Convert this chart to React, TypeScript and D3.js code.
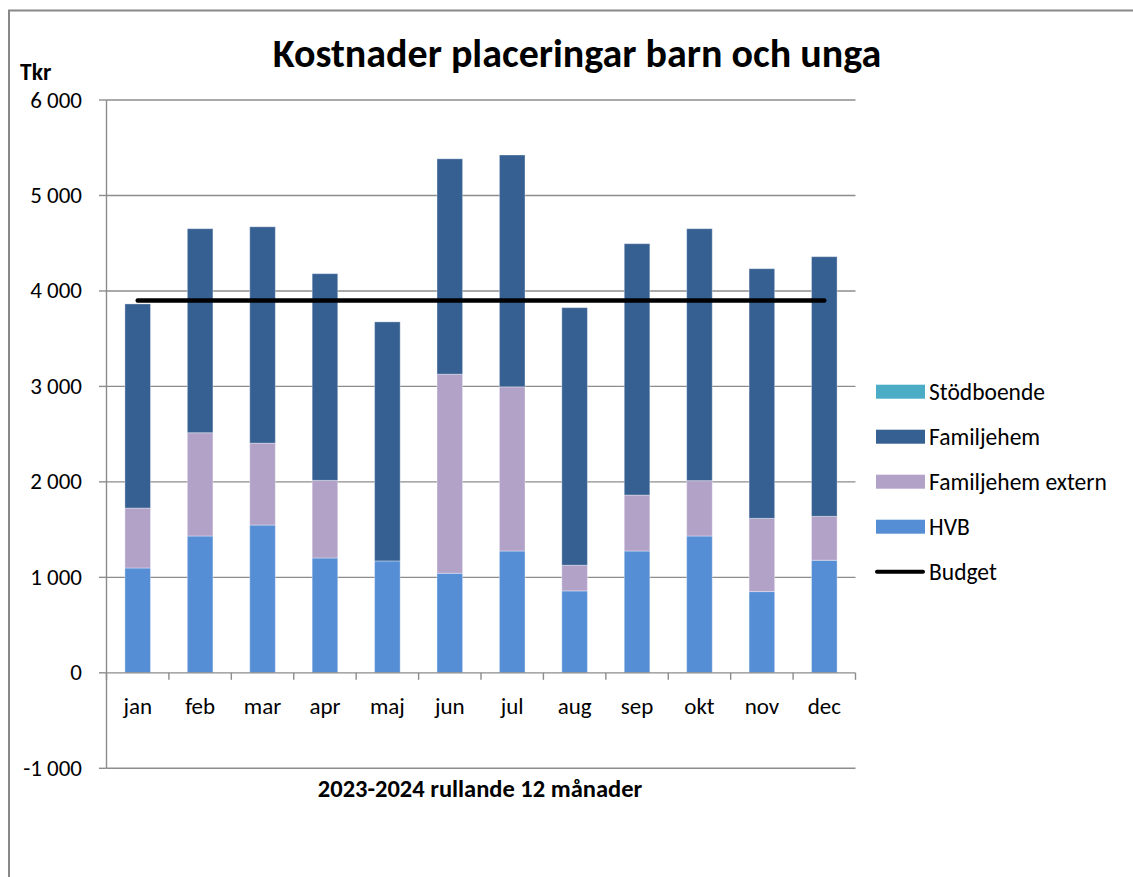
import React from 'react';
import * as d3 from 'd3';

const months = ['jan', 'feb', 'mar', 'apr', 'maj', 'jun', 'jul', 'aug', 'sep', 'okt', 'nov', 'dec'];
const hvb = [1098, 1433, 1548, 1203, 1172, 1043, 1276, 858, 1276, 1433, 851, 1179];
const famExtern = [628, 1082, 858, 813, 0, 2085, 1720, 269, 586, 580, 767, 460];
const familjehem = [2138, 2137, 2266, 2165, 2504, 2256, 2428, 2698, 2633, 2639, 2615, 2720];
const stodboende = [0, 0, 0, 0, 0, 0, 0, 0, 0, 0, 0, 0];
const budget = [3900, 3900, 3900, 3900, 3900, 3900, 3900, 3900, 3900, 3900, 3900, 3900];
const yTicks = [-1000, 0, 1000, 2000, 3000, 4000, 5000, 6000];

const keys = ['HVB', 'Familjehem extern', 'Familjehem', 'Stödboende'];
const colors: Record<string, string> = {
  'HVB': '#558ED5',
  'Familjehem extern': '#B3A2C7',
  'Familjehem': '#376092',
  'Stödboende': '#4BACC6',
};
const legendOrder = ['Stödboende', 'Familjehem', 'Familjehem extern', 'HVB'];

const font = 'Carlito, Calibri, Lato, sans-serif';

const fmt = (v: number) => {
  const s = Math.abs(v).toString().replace(/\B(?=(\d{3})+(?!\d))/g, ' ');
  return (v < 0 ? '-' : '') + s;
};

const App = () => {
  const rows = months.map((m, i) => ({
    month: m,
    'HVB': hvb[i],
    'Familjehem extern': famExtern[i],
    'Familjehem': familjehem[i],
    'Stödboende': stodboende[i],
  }));
  const series = d3.stack<any>().keys(keys)(rows);

  const x = d3.scaleBand().domain(months).range([106.5, 855.5]).padding(0);
  const y = d3.scaleLinear().domain([-1000, 6000]).range([768.3, 100]);
  const barW = x.bandwidth() * 0.41;
  const cx = (m: string) => (x(m) as number) + x.bandwidth() / 2;

  const line = d3.line<number>()
    .x((_, i) => cx(months[i]))
    .y((d) => y(d));

  const boundaries = months.map((m) => x(m) as number).concat([855.5]);

  return (
    <svg width={1133} height={877} style={{ position: 'absolute', left: 0, top: 0, background: '#fff' }} fontFamily={font}>
      <rect x={9} y={10.5} width={1200} height={900} fill="#fff" stroke="#888" strokeWidth={2} />

      <text x={577} y={67} textAnchor="middle" fontSize={40} fontWeight="bold">Kostnader placeringar barn och unga</text>
      <text x={20} y={80} fontSize={23.5} fontWeight="bold">Tkr</text>

      {yTicks.map((t) => (
        <g key={t}>
          {t !== -1000 && t !== 0 && (
            <line x1={106.5} x2={855.5} y1={y(t)} y2={y(t)} stroke="#8c8c8c" strokeWidth={1.4} />
          )}
          <line x1={99} x2={106.5} y1={y(t)} y2={y(t)} stroke="#8c8c8c" strokeWidth={1.4} />
          <text x={82} y={y(t) + 7.5} textAnchor="end" fontSize={23} fill="#000">{fmt(t)}</text>
        </g>
      ))}
      <line x1={106.5} x2={855.5} y1={y(-1000)} y2={y(-1000)} stroke="#8c8c8c" strokeWidth={1.4} />
      <line x1={106.5} x2={106.5} y1={y(6000)} y2={y(-1000)} stroke="#8c8c8c" strokeWidth={1.4} />

      {series.map((s) => (
        <g key={s.key} fill={colors[s.key]}>
          {s.map((d, i) => (
            d[1] - d[0] > 0 ? (
              <rect key={i}
                x={cx(months[i]) - barW / 2}
                y={y(d[1])}
                width={barW}
                height={y(d[0]) - y(d[1])}
                stroke="#ffffff" strokeOpacity={0.35} strokeWidth={1} />
            ) : null
          ))}
        </g>
      ))}

      <line x1={106.5} x2={855.5} y1={y(0)} y2={y(0)} stroke="#8c8c8c" strokeWidth={1.4} />
      {boundaries.map((b, i) => (
        <line key={i} x1={b} x2={b} y1={y(0)} y2={y(0) + 7} stroke="#8c8c8c" strokeWidth={1.4} />
      ))}
      {months.map((m) => (
        <text key={m} x={cx(m)} y={714} textAnchor="middle" fontSize={23}>{m}</text>
      ))}

      <path d={line(budget) || ''} fill="none" stroke="#000" strokeWidth={4.5} strokeLinecap="round" />

      <text x={480} y={797} textAnchor="middle" fontSize={24.5} fontWeight="bold">2023-2024 rullande 12 månader</text>

      {legendOrder.map((k, i) => (
        <g key={k} transform={`translate(0, ${391.7 + i * 45})`}>
          <rect x={876} y={-7} width={49} height={14} fill={colors[k]} />
          <text x={929} y={8} fontSize={23.5}>{k}</text>
        </g>
      ))}
      <g transform={`translate(0, ${391.7 + 4 * 45})`}>
        <line x1={877} x2={923} y1={0} y2={0} stroke="#000" strokeWidth={4} strokeLinecap="round" />
        <text x={929} y={8} fontSize={23.5}>Budget</text>
      </g>
    </svg>
  );
};

export default App;
